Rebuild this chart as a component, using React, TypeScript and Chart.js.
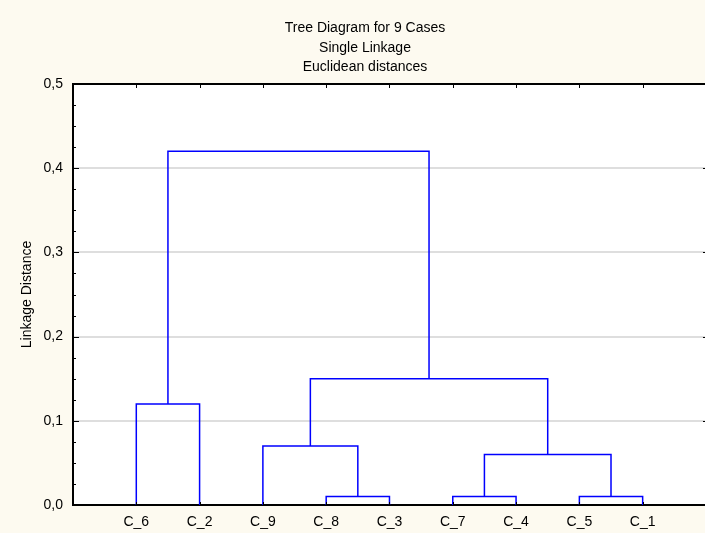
import React, { useEffect, useRef } from 'react';
import { Chart, registerables } from 'chart.js';

Chart.register(...registerables);

const TITLE_LINES = ['Tree Diagram for 9 Cases', 'Single Linkage', 'Euclidean distances'];
const Y_TITLE = 'Linkage Distance';
const LEAVES = ['C_6', 'C_2', 'C_9', 'C_8', 'C_3', 'C_7', 'C_4', 'C_5', 'C_1'];
// linkage table: node ids 0..8 are leaves (in display order), merges create ids 9,10,...
const MERGE_LEFT = [3, 5, 7, 10, 2, 0, 13, 14];
const MERGE_RIGHT = [4, 6, 8, 11, 9, 1, 12, 15];
const MERGE_HEIGHT = [0.01, 0.01, 0.01, 0.06, 0.07, 0.12, 0.15, 0.42];
const Y_MIN = 0;
const Y_MAX = 0.5;
const Y_STEP = 0.1;
const Y_MINOR_STEP = 0.025;
const X_MIN = 0;
const X_MAX = 9.985;

const FONT = "'Liberation Sans', Arial, sans-serif";
const W = 705;
const H = 533;

function buildLinks() {
  const xs: number[] = LEAVES.map((_, i) => i + 1);
  const ys: number[] = LEAVES.map(() => 0);
  const datasets: any[] = [];
  MERGE_HEIGHT.forEach((h, k) => {
    const a = MERGE_LEFT[k];
    const b = MERGE_RIGHT[k];
    datasets.push({
      data: [
        { x: xs[a], y: ys[a] },
        { x: xs[a], y: h },
        { x: xs[b], y: h },
        { x: xs[b], y: ys[b] },
      ],
      showLine: true,
      borderColor: '#0000ff',
      backgroundColor: '#0000ff',
      borderWidth: 1.5,
      pointRadius: 0,
      pointHoverRadius: 0,
      fill: false,
      tension: 0,
    });
    xs.push((xs[a] + xs[b]) / 2);
    ys.push(h);
  });
  return datasets;
}

const decor = {
  id: 'decor',
  beforeDraw(chart: any) {
    const { ctx, chartArea } = chart;
    ctx.save();
    ctx.fillStyle = '#fdfaf0';
    ctx.fillRect(0, 0, chart.width, chart.height);
    ctx.fillStyle = '#ffffff';
    ctx.fillRect(chartArea.left, chartArea.top, chartArea.right - chartArea.left, chartArea.bottom - chartArea.top);
    ctx.restore();
  },
  afterDraw(chart: any) {
    const { ctx, chartArea } = chart;
    const xs = chart.scales.x;
    const ysc = chart.scales.y;
    ctx.save();
    ctx.strokeStyle = '#000';
    // top axis line
    ctx.lineWidth = 2;
    ctx.beginPath();
    ctx.moveTo(chartArea.left, chartArea.top);
    ctx.lineTo(chartArea.right, chartArea.top);
    ctx.stroke();
    // y ticks (inward)
    ctx.lineWidth = 1;
    const n = Math.round((Y_MAX - Y_MIN) / Y_MINOR_STEP);
    for (let i = 0; i <= n; i++) {
      const v = Y_MIN + i * Y_MINOR_STEP;
      const major = i % Math.round(Y_STEP / Y_MINOR_STEP) === 0;
      const py = Math.round(ysc.getPixelForValue(v)) + 0.5;
      const len = major ? 6 : 3;
      ctx.beginPath();
      ctx.moveTo(chartArea.left, py);
      ctx.lineTo(chartArea.left + len, py);
      ctx.stroke();
      if (major) {
        ctx.beginPath();
        ctx.moveTo(chartArea.right, py);
        ctx.lineTo(chartArea.right - 2, py);
        ctx.stroke();
      }
    }
    // x ticks at categories, top and bottom (inward)
    LEAVES.forEach((_, i) => {
      const px = Math.round(xs.getPixelForValue(i + 1)) + 0.5;
      ctx.beginPath();
      ctx.moveTo(px, chartArea.top);
      ctx.lineTo(px, chartArea.top + 4);
      ctx.moveTo(px, chartArea.bottom);
      ctx.lineTo(px, chartArea.bottom - 3);
      ctx.stroke();
    });
    // title
    ctx.fillStyle = '#000';
    ctx.font = `14px ${FONT}`;
    ctx.textAlign = 'center';
    ctx.textBaseline = 'alphabetic';
    TITLE_LINES.forEach((t, i) => {
      ctx.fillText(t, 365, 32 + i * 19.5);
    });
    ctx.restore();
  },
};

export default function App() {
  const ref = useRef<HTMLCanvasElement | null>(null);
  useEffect(() => {
    document.body.style.margin = '0';
    document.body.style.overflow = 'hidden';
    const canvas = ref.current!;
    const chart = new Chart(canvas, {
      type: 'scatter',
      data: { datasets: buildLinks() },
      options: {
        animation: false,
        responsive: false,
        devicePixelRatio: 1,
        layout: { padding: { top: 84, left: 0, right: 0, bottom: 0 } },
        plugins: {
          legend: { display: false },
          tooltip: { enabled: false },
          title: { display: false },
        },
        scales: {
          x: {
            type: 'linear',
            position: 'bottom',
            min: X_MIN,
            max: X_MAX,
            afterFit(scale: any) {
              scale.height = 28;
              scale.paddingLeft = 0;
              scale.paddingRight = 0;
            },
            grid: { display: false, drawTicks: false },
            border: { display: true, color: '#000', width: 2 },
            ticks: {
              stepSize: 1,
              autoSkip: false,
              maxRotation: 0,
              padding: 9,
              color: '#000',
              font: { family: FONT, size: 14 },
              callback: (v: any) => {
                const i = Math.round(Number(v)) - 1;
                return i >= 0 && i < LEAVES.length ? LEAVES[i] : '';
              },
            },
          },
          y: {
            type: 'linear',
            position: 'left',
            min: Y_MIN,
            max: Y_MAX,
            afterFit(scale: any) {
              scale.width = 73;
            },
            grid: {
              drawTicks: false,
              lineWidth: 2,
              color: (c: any) => {
                const v = c.tick ? c.tick.value : 0;
                return v > Y_MIN + 0.01 && v < Y_MAX - 0.01 ? '#dedede' : 'rgba(0,0,0,0)';
              },
            },
            border: { display: true, color: '#000', width: 2 },
            ticks: {
              stepSize: Y_STEP,
              padding: 10,
              color: '#000',
              font: { family: FONT, size: 14 },
              callback: (v: any) => Number(v).toFixed(1).replace('.', ','),
            },
            title: {
              display: true,
              text: Y_TITLE,
              color: '#000',
              font: { family: FONT, size: 14 },
              padding: { top: 18.6, bottom: 0 },
            },
          },
        },
      },
      plugins: [decor],
    });
    return () => chart.destroy();
  }, []);
  return (
    <div style={{ width: W, height: H, overflow: 'hidden' }}>
      <canvas ref={ref} width={W} height={H} style={{ display: 'block' }} />
    </div>
  );
}
